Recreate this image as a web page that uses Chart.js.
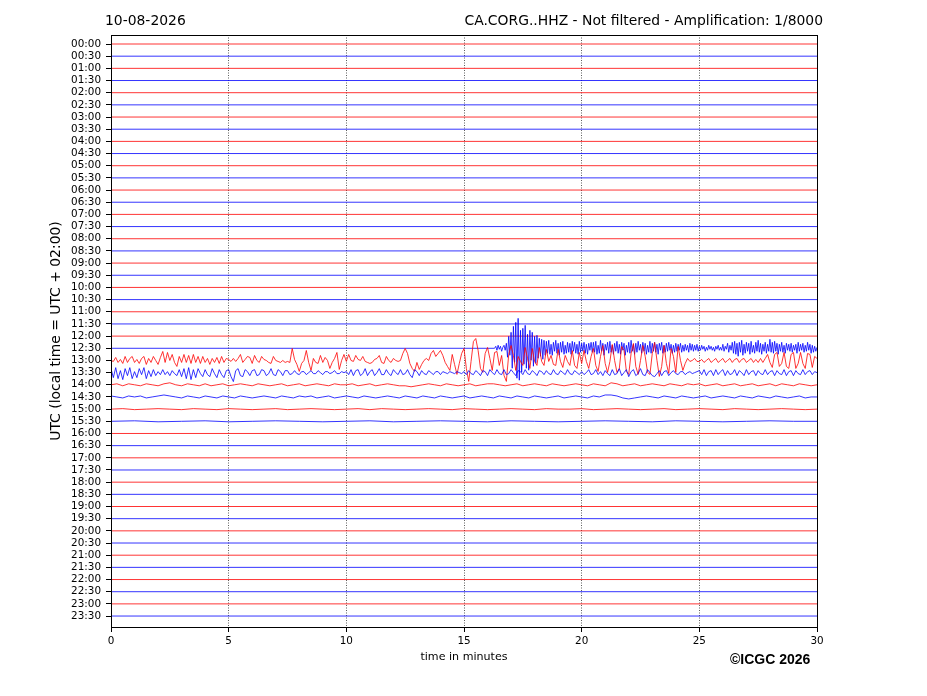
<!DOCTYPE html>
<html>
<head>
  <title>CA.CORG..HHZ helicorder</title>
  <script src="https://cdn.jsdelivr.net/npm/chart.js"></script>
  <style>
    body {
      margin: 0;
      background: #fff;
      font-family: "DejaVu Sans", sans-serif;
    }
    #wrap {
      position: relative;
      width: 927px;
      height: 696px;
    }
    .txt {
      position: absolute;
      font-size: 13.9px;
      line-height: 1;
      color: #000;
      white-space: nowrap;
    }
    #date { left: 105px; top: 14px; }
    #station { right: 104px; top: 14px; }
    #copy {
      left: 730px;
      top: 651.5px;
      font-family: "Liberation Sans", Arial, sans-serif;
      font-weight: bold;
      font-size: 14px;
    }
  </style>
</head>
<body>

  <div id="wrap">
    <canvas id="heli"></canvas>
    <div class="txt" id="date">10-08-2026</div>
    <div class="txt" id="station">CA.CORG..HHZ - Not filtered - Amplification: 1/8000</div>
    <div class="txt" id="copy">©ICGC 2026</div>
  </div>

  <script>
    // one trace per half hour, top to bottom
    const timeLabels = [
      '00:00','00:30','01:00','01:30','02:00','02:30','03:00','03:30',
      '04:00','04:30','05:00','05:30','06:00','06:30','07:00','07:30',
      '08:00','08:30','09:00','09:30','10:00','10:30','11:00','11:30',
      '12:00','12:30','13:00','13:30','14:00','14:30','15:00','15:30',
      '16:00','16:30','17:00','17:30','18:00','18:30','19:00','19:30',
      '20:00','20:30','21:00','21:30','22:00','22:30','23:00','23:30'
    ];
    const minuteTicks = [0, 5, 10, 15, 20, 25, 30];
    const traceColors = ['#ff0000', '#0000ff'];

    // amplitude units (after 1/8000 gain); ROW_AMP units = one trace spacing
    const ROW_AMP = 12.2;

    // 13:00 trace, one value every 0.1 min
    const red1300_a = [0,-1,3,-2,1,-3,4,-2,2,4, -2,1,-3,2,4,-4,2,-2,4,0, -4,3,9,-2,8,0,6,-2,-6,4, -2,6,-2,5,-3,6,-2,4,-3,4, -2,2,-4,2,-2,3,-3,4,-2,2];
    const red1300_b = [1,-1,2,-1,2,6,-2,1,4,3, -3,5,0,-2,4,1,0,-2,-3,4, 0,-1,-2,0,-2,-1,-2,12,1,-4, -11,-3,0,10,-2,-10,2,-2,-3,5, -2,3,0,-8,-2,2,8,-9,0,6];
    const red1300_c = [-1,6,0,-1,5,1,0,4,-1,-2, -3,-2,1,2,5,-2,-3,4,0,-2, 2,0,-1,0,7,12,7,-3,-8,-11, -2,-9,-4,0,2,0,7,10,4,7, 10,5,-2,-6,-10,6,-4,-14,-3,7];
    const red1300_d = [12,-8,-21,-1,19,22,10,-8,-12,7, 13,2,-10,8,9,-5,5,-15,-21,6, 15,5,-10,4,-1,-5,13,2,-8,12, -1,-5,13,-1,-5,11,-1,5,-4,-5, 11,-1,-7,5,-1,-5,10,-5,-8,8];
    const red1300_e = [-3,10,-1,-8,4,12,-5,-11,4,15, -3,-12,-1,16,0,-12,-8,14,10,-11, -14,7,17,-6,-14,0,15,4,-12,-14, 7,18,0,-16,-6,15,-3,-13,12,4, -12,14,0,-10,-3,2,-1,0,2,-1];
    const red1300_f = [-1,1,-2,0,2,-2,0,2,-2,0, 2,-2,0,2,-2,1,2,-2,1,2, -2,0,2,-2,1,-2,2,-2,2,6, -2,-7,6,8,-6,-3,8,-6,-8,6, 8,-8,-3,8,-3,-8,7,6,-7,4, 2];

    // 13:30 trace, one value every 0.1 min
    const blue1330_a = [4,-5,5,-6,2,-7,4,-3,5,-6, 1,-5,4,-2,5,-6,2,-4,3,-3, 1,-2,3,-2,1,-3,2,-1,-3,3, -4,4,-6,5,-7,3,-5,4,-1,-4, 3,-2,-4,4,-1,-5,3,-2,-5,2];
    const blue1330_b = [3,-4,-9,2,4,-3,-4,3,1,-3, 2,3,-3,-2,3,2,-3,-1,4,-2, -3,3,1,-3,2,2,-2,-1,2,-1, -2,1,1,-2,0,2,-1,-1,2,0, -2,1,1,-1,0,2,-1,-1,1,0];
    const blue1330_c = [1,-2,3,-3,2,3,-3,-1,4,-3, 1,3,-3,0,4,-2,-2,3,-1,-3, 3,0,-2,3,-2,-1,3,-2,-5,3, 1,-3,2,-1,-2,2,0,-2,1,1, -2,1,0,-1,1,0,-1,1,0,-1];
    const blue1330_d = [1,-2,2,-1,-2,2,0,-3,2,1, -3,3,0,-2,3,-1,-2,3,-2,-1, 3,0,-3,2,1,-2,3,-1,-2,2, 0,-3,2,1,-2,2,-1,-2,3,-1, -2,2,0,-2,3,-1,-2,2,0,-2];
    const blue1330_e = [1,-2,0,3,-2,-1,3,-2,1,-3, 2,-1,-3,3,-2,-1,4,-3,0,3, -4,1,3,-3,-1,4,-2,-3,3,0, -3,-4,-1,2,-3,1,2,-3,0,2, -1,-2,1,1,-2,0,1,-1,0,1];
    const blue1330_f = [2,-2,3,-3,1,2,-3,3,-2,1, 3,-3,2,-2,-1,3,-3,2,0,-3, 3,-2,1,2,-3,2,-1,-2,3,-2, 1,2,-3,2,-1,-2,3,-3,1,2, -3,2,-1,-2,3,-2,1,2,-2,1, 0];

    // 12:30 trace, quiet until 16.3 min, then one value every 0.05 min
    const blue1230_onset = [0,2,-2,3,-1,2,-3,1,3,-2];
    const blue1230_peak = [5,-9,12,-7,16,-20,22,-14,26,-30, 30,-32,18,-24,20,-16,23,-20,14,-22,
      18,-12,16,-18,12,-15,13,-10, 10,-8,9,-11,8,-7];
    const blue1230_coda = [7,-5,8,-6,4,-7,6,-3,8,-5,5,-7,6,-4,7,-6,3,-5,6,-4,
      5,-6,7,-3,6,-5,4,-6,7,-4,5,-3,6,-5,4,-6,5,-2,6,-4];
    const blue1230_tail = [6,-4,7,-6,3,-5,8,-3,5,-7,4,-2,6,-5,7,-4,3,-6,5,-3,
      7,-5,4,-6,6,-2,5,-7,3,-4,6,-5,8,-3,4,-6,5,-4,7,-2,
      4,-5,6,-3,5,-6,3,-4,7,-5,5,-3,6,-4,4,-6,5,-2,6,-5,
      3,-4,5,-3,6,-2,4,-5,3,-4,5,-3,4,-2,5,-4,3,-3,4,-2,
      3,-4,5,-2,4,-3,3,-2,4,-3,
      2,-2,3,-1,2,-3,1,-2,3,-1,2,-2,1,-3,2,-1,3,-2,1,-2,4,-3,2,-1,5,-4,3,-2,6,-5,
      7,-6,5,-8,6,-4,8,-7,4,-5,6,-3,5,-6,7,-4,3,-5,6,-3,8,-4,5,-6,4,-3,6,-5,4,-3,
      9,-4,6,-5,7,-3,5,-6,4,-3,6,-4,3,-5,5,-2,4,-3,5,-4,3,-2,4,-5,6,-3,4,-2,5,-4,3,-3,6,-2,4,-5,3,-4,2,-3,
      1];

    // 14:00 and 14:30 traces, one value every 0.25 min
    const red1400 = [0,1,-1,1,0,-1,1,0,-1,1, 2,0,-1,1,0,-1,1,-1,0,1, -1,0,1,0,-1,1,0,-1,0,1, -1,0,1,-1,0,1,0,-1,1,0,
      0,1,-1,0,1,-1,0,1,0,-1, -1,-2,-1,0,1,0,-1,1,0,-1, 0,1,-1,0,1,1,0,-1,0,1, -1,0,1,0,-1,1,0,-1,0,1,
      0,-1,1,0,-1,2,1,-1,0,1, -1,0,1,0,-1,1,0,-1,1,0, 1,-1,0,1,-1,0,1,-1,0,1, -1,0,1,-1,1,0,-1,1,0,-1, 0];
    const blue1430 = [1,0,-1,1,0,1,-1,0,1,2, 1,0,-1,1,0,-1,1,0,-1,1, 0,-1,1,0,-1,0,1,0,-1,1, 0,-1,1,0,1,-1,0,1,-1,0,
      1,0,-1,1,0,-1,0,1,0,-1, 1,0,-1,1,0,-1,1,0,-1,0, 1,-1,0,1,0,-1,1,0,-1,1, 0,-1,1,0,-1,0,1,-1,0,1,
      0,-1,1,0,2,2,1,-1,-2,-1, 0,1,0,-1,1,0,-1,1,0,-1, 0,1,-1,0,1,0,-1,1,0,-1, 1,0,-1,1,0,-1,0,1,-1,0, 0];

    // 15:00 every 0.5 min, 15:30 every 1 min
    const red1500 = [0,0.5,-0.5,0,0.5,0,-0.5,0.5,0,-0.5, 0.5,0,-0.5,0,0.5,-0.5,0,0.5,0,-0.5,
      0,0.5,-0.5,0.5,0,-0.5,0,0.5,0,-0.5, 0.5,0,-0.5,0,0.5,0,-0.5,0.5,0,0,
      0.5,-0.5,0,0.5,0,-0.5,0,0.5,-0.5,0, 0.5,0,-0.5,0.5,0,-0.5,0,0.5,0,-0.5, 0];
    const blue1530 = [0,0.5,-0.5,0,0.5,-0.5,0,0.5,0,-0.5, 0,0.5,-0.5,0,0.5,0,-0.5,0.5,0,-0.5,
      0,0.5,0,-0.5,0.5,0,-0.5,0,0.5,0, 0];

    // rows that carry recorded values; every other row is a flat line
    const activeTraces = {
      25: { start: 16.3, step: 0.05, values: [].concat(blue1230_onset, blue1230_peak, blue1230_coda, blue1230_tail) },
      26: { start: 0, step: 0.1, values: [].concat(red1300_a, red1300_b, red1300_c, red1300_d, red1300_e, red1300_f) },
      27: { start: 0, step: 0.1, values: [].concat(blue1330_a, blue1330_b, blue1330_c, blue1330_d, blue1330_e, blue1330_f) },
      28: { start: 0, step: 0.25, values: red1400 },
      29: { start: 0, step: 0.25, values: blue1430 },
      30: { start: 0, step: 0.5, values: red1500 },
      31: { start: 0, step: 1, values: blue1530 }
    };

    const datasets = timeLabels.map((label, row) => {
      const tr = activeTraces[row];
      let pts = [];
      if (!tr) {
        pts = [{ x: 0, y: row }, { x: 30, y: row }];
      } else {
        if (tr.start > 0) pts.push({ x: 0, y: row });
        tr.values.forEach((v, i) => {
          pts.push({ x: tr.start + i * tr.step, y: row - v / ROW_AMP });
        });
      }
      return {
        label: label,
        data: pts,
        borderColor: traceColors[row % 2],
        borderWidth: 0.8,
        pointRadius: 0,
        tension: 0,
        fill: false,
        order: timeLabels.length - row
      };
    });

    // black box round the plot area
    const frame = {
      id: 'frame',
      afterDraw(chart) {
        const { ctx, chartArea: a } = chart;
        ctx.save();
        ctx.strokeStyle = '#000';
        ctx.lineWidth = 1;
        ctx.strokeRect(Math.round(a.left) + 0.5, Math.round(a.top) + 0.5,
          Math.round(a.right - a.left), Math.round(a.bottom - a.top));
        ctx.restore();
      }
    };

    const ctx = document.getElementById('heli').getContext('2d');
    new Chart(ctx, {
      type: 'line',
      data: { datasets: datasets },
      plugins: [frame],
      options: {
        responsive: true,
        maintainAspectRatio: false,
        animation: false,
        parsing: false,
        layout: { padding: { left: 40, right: 110, top: 35, bottom: 29 } },
        plugins: {
          legend: { display: false },
          tooltip: { enabled: false }
        },
        scales: {
          x: {
            type: 'linear',
            min: 0,
            max: 30,
            afterBuildTicks: s => { s.ticks = minuteTicks.map(v => ({ value: v })); },
            afterFit: s => { s.height = 40; },
            ticks: {
              color: '#000',
              font: { family: 'DejaVu Sans', size: 10.4 },
              padding: 3,
              maxRotation: 0,
              autoSkip: false
            },
            grid: {
              color: '#333',
              lineWidth: 0.8,
              tickColor: '#000',
              tickWidth: 1,
              tickLength: 5,
              tickBorderDash: []
            },
            border: { display: false, dash: [1, 1.5] },
            title: {
              display: true,
              text: 'time in minutes',
              color: '#000',
              font: { family: 'DejaVu Sans', size: 11.1 },
              padding: { top: 0, bottom: 3.4 }
            }
          },
          y: {
            type: 'linear',
            min: -0.74,
            max: 47.9,
            reverse: true,
            afterBuildTicks: s => { s.ticks = timeLabels.map((_, i) => ({ value: i })); },
            afterFit: s => { s.width = 71; },
            ticks: {
              color: '#000',
              font: { family: 'DejaVu Sans', size: 10.4 },
              padding: 5,
              autoSkip: false,
              callback: v => timeLabels[v]
            },
            grid: {
              drawOnChartArea: false,
              tickColor: '#000',
              tickWidth: 1,
              tickLength: 5
            },
            border: { display: false },
            title: {
              display: true,
              text: 'UTC (local time = UTC + 02:00)',
              color: '#000',
              font: { family: 'DejaVu Sans', size: 13.9 },
              padding: { top: 8.5, bottom: 0 }
            }
          }
        }
      }
    });
  </script>

</body>
</html>
